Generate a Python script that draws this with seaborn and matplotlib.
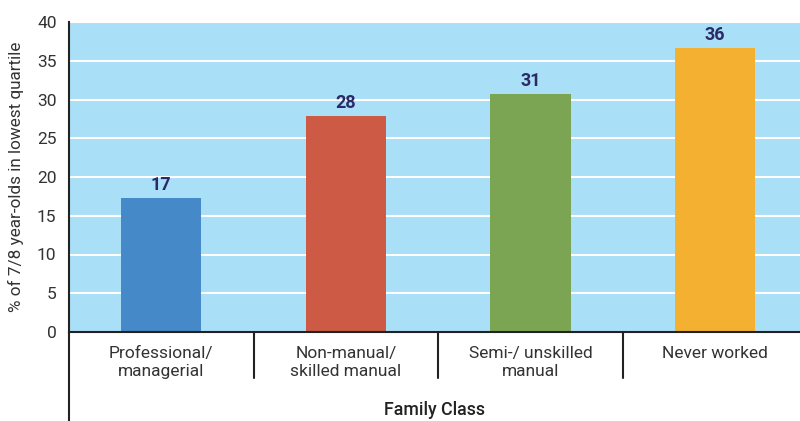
import matplotlib
matplotlib.use("Agg")
import matplotlib.pyplot as plt
import matplotlib.transforms as mtransforms
import seaborn as sns
import pandas as pd

categories = ["Professional/\nmanagerial", "Non-manual/\nskilled manual", "Semi-/ unskilled\nmanual", "Never worked"]
values = [17.3, 27.9, 30.7, 36.6]
value_labels = ["17", "28", "31", "36"]
colors = ["#4589c8", "#cc5a45", "#7ba552", "#f3b031"]
yticks = [0, 5, 10, 15, 20, 25, 30, 35, 40]

sns.set_theme(style="white")
plt.rcParams['font.family'] = ['Roboto', 'DejaVu Sans']

df = pd.DataFrame({"cat": categories, "val": values})

fig = plt.figure(figsize=(8, 4.21), dpi=100)
ax = fig.add_axes([69/800, 1-332/421, 1-69/800, 310/421])
ax.set_facecolor("#aadff8")

sns.barplot(data=df, x="cat", y="val", hue="cat", palette=colors, legend=False,
            width=0.434, saturation=1, ax=ax, linewidth=0, edgecolor="none")
for p in ax.patches:
    p.set_zorder(3)

ax.set_ylim(0, 40)
ax.set_xlim(-0.5, 3.46)
ax.set_yticks(yticks)
ax.yaxis.grid(True, color="white", linewidth=1.5)
ax.set_axisbelow(True)
for gl in ax.get_ygridlines():
    gl.set_zorder(1)
ax.tick_params(axis="y", length=0, pad=9, labelsize=12.5, labelcolor="#333333")
ax.tick_params(axis="x", length=0, pad=10, labelsize=12.5, labelcolor="#333333")
for t in ax.get_xticklabels():
    t.set_linespacing(1.25)
ax.set_xlabel("")
ax.set_ylabel("% of 7/8 year-olds in lowest quartile", fontsize=12.3, color="#333333", labelpad=9)

for s in ["top", "right"]:
    ax.spines[s].set_visible(False)
for s in ["left", "bottom"]:
    ax.spines[s].set_color("#222222")
    ax.spines[s].set_linewidth(1.5)
    ax.spines[s].set_zorder(4)

for i, (v, lab) in enumerate(zip(values, value_labels)):
    ax.annotate(lab, (i, v), xytext=(0, 3), textcoords="offset points",
                ha="center", va="bottom", fontsize=13, fontweight="bold", color="#2a2a66")

trans = mtransforms.blended_transform_factory(ax.transData, ax.transAxes)
for xs in [0.5, 1.5, 2.5]:
    ax.plot([xs, xs], [0, -46/310], transform=trans, color="#222222", lw=1.5, clip_on=False)
ax.plot([-0.5, -0.5], [0, -89/310], transform=trans, color="#222222", lw=1.5, clip_on=False)

ax.text(0.5, -78/310, "Family Class", transform=ax.transAxes, ha="center", va="center",
        fontsize=12.8, color="#222222", fontweight="medium")

fig.savefig("out.png", dpi=100)
